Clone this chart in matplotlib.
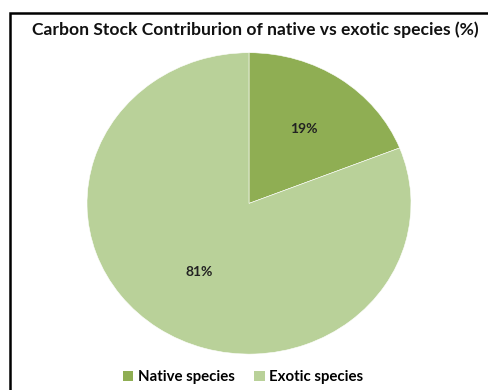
import matplotlib
matplotlib.use("Agg")
import numpy as np
from matplotlib import pyplot as plt
from matplotlib.patches import Rectangle, Patch

labels = ["Native species", "Exotic species"]
values = [19, 81]
colors = ["#8fae53", "#b9d199"]

plt.rcParams['font.family'] = ['Lato', 'DejaVu Sans']

W, H = 488, 390
fig = plt.figure(figsize=(W / 100, H / 100), dpi=100)
fig.patch.set_facecolor("white")

# chart frame (right and bottom edges run off the picture)
fig.patches.append(Rectangle((9.5 / W, -0.05), 1.0, (H - 13) / H + 0.05,
                             transform=fig.transFigure, fill=False,
                             edgecolor="black", linewidth=1.8))

fig.text(255 / W, 1 - 30 / H, "Carbon Stock Contriburion of native vs exotic species (%)",
         ha="center", va="center", fontsize=12.6, fontweight="bold", color="#111111")

# the source picture is squashed a little vertically, so the pie is an ellipse
cx, cy, rx, ry = 249, 203.4, 162, 150.7
ax = fig.add_axes([(cx - rx) / W, (H - cy - ry) / H, 2 * rx / W, 2 * ry / H])
wedges, texts = ax.pie(values, colors=colors, startangle=90, counterclock=False,
                       wedgeprops=dict(edgecolor="white", linewidth=0.4))
for w, v in zip(wedges, values):
    ang = np.deg2rad((w.theta1 + w.theta2) / 2)
    d = 0.6 if v < 50 else 0.55
    ax.text(d * np.cos(ang), d * np.sin(ang), f"{v}%", ha="center", va="center",
            fontsize=10, fontweight="bold", color="#222222")
ax.set_xlim(-1, 1)
ax.set_ylim(-1, 1)
ax.set_aspect("auto")
ax.axis("off")

handles = [Patch(facecolor=c, edgecolor="none") for c in colors]
fig.legend(handles, labels, loc="center", bbox_to_anchor=(243 / W, 1 - 377 / H),
           ncol=2, frameon=False, handlelength=0.7, handleheight=0.7,
           handletextpad=0.3, columnspacing=1.3, prop=dict(weight="bold", size=10.8))

fig.savefig("out.png", dpi=100)
